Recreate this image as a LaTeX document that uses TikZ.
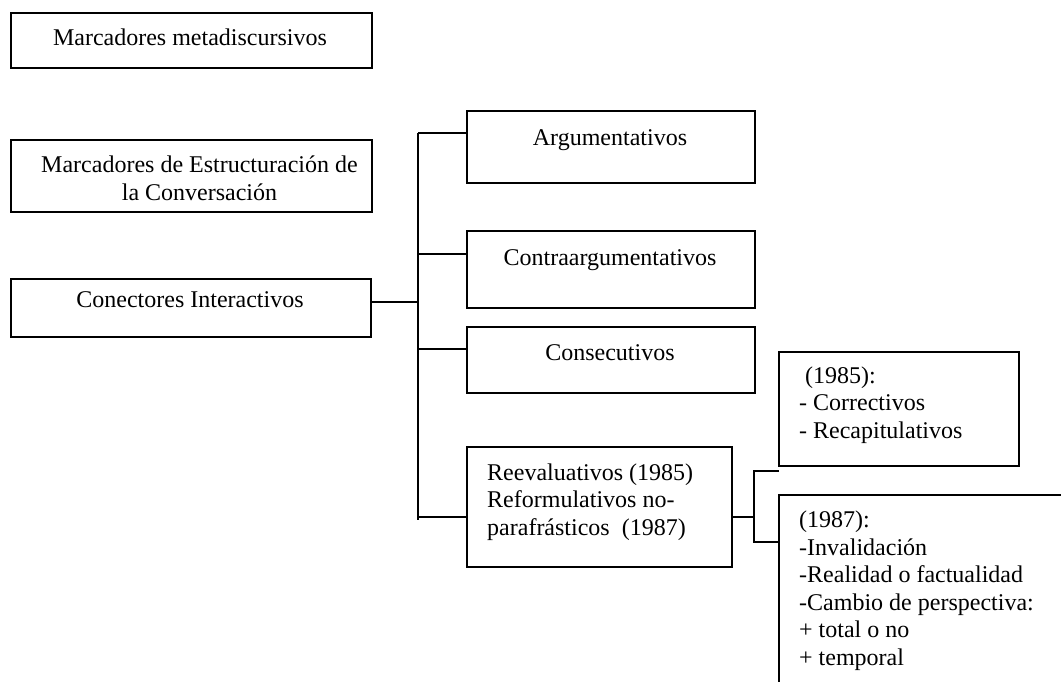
\documentclass[tikz,border=0pt]{standalone}
\usepackage{fontspec}
\setmainfont{Liberation Serif}
\begin{document}
\begin{tikzpicture}[x=1pt,y=-1pt,
  box/.style={draw, rectangle, inner sep=0pt, line width=1.8pt, anchor=north west},
  txt/.style={inner sep=0pt, font=\fontsize{24}{27.5}\selectfont},
  wire/.style={line width=1.8pt}]
\useasboundingbox (0,0) rectangle (1061,681);
\clip (0,0) rectangle (1061,681);
% boxes
\node[box, minimum width=361pt, minimum height=55pt] (mm) at (10,12) {};
\node[box, minimum width=361pt, minimum height=72pt] (me) at (10,139) {};
\node[box, minimum width=360pt, minimum height=58pt] (ci) at (10,278) {};
\node[box, minimum width=288pt, minimum height=72pt] (arg) at (466,110) {};
\node[box, minimum width=288pt, minimum height=77pt] (con) at (466,230) {};
\node[box, minimum width=288pt, minimum height=66pt] (cons) at (466,326) {};
\node[box, minimum width=265pt, minimum height=120pt] (ree) at (466,446) {};
\node[box, minimum width=240pt, minimum height=114pt] (b85) at (778,351) {};
\node[box, minimum width=320pt, minimum height=220pt] (b87) at (778,494) {};
% texts (multi-line nodes: base = baseline of last line)
\node[txt, anchor=base] (tmm) at (190,45) {Marcadores metadiscursivos};
\node[txt, anchor=base, align=center] (tme) at (199.5,200) {Marcadores de Estructuración de\\la Conversación};
\node[txt, anchor=base] (tci) at (190,307) {Conectores Interactivos};
\node[txt, anchor=base] (targ) at (610,145) {Argumentativos};
\node[txt, anchor=base] (tcon) at (610,265) {Contraargumentativos};
\node[txt, anchor=base] (tcons) at (610,360) {Consecutivos};
\node[txt, anchor=base west, align=left] (tree) at (487,535) {Reevaluativos (1985)\\Reformulativos no-\\parafrásticos~~(1987)};
\node[txt, anchor=base west, align=left] (t85) at (799,438) {\hspace{6pt}(1985):\\- Correctivos\\- Recapitulativos};
\node[txt, anchor=base west, align=left] (t87) at (799,665) {(1987):\\-Invalidación\\-Realidad o factualidad\\-Cambio de perspectiva:\\+ total o no\\+ temporal};
% connectors
\coordinate (jt) at (418,133);
\coordinate (jb) at (418,520);
\coordinate (jci) at (418,302);
\coordinate (jcon) at (418,254);
\coordinate (jcons) at (418,349);
\coordinate (jree) at (418,517);
\coordinate (st) at (754,471);
\coordinate (sb) at (754,542);
\coordinate (stt) at (779,471);
\draw[wire] (jt) -- (jb);
\draw[wire] (ci.east |- jci) -- (jci);
\draw[wire] (jt) -- (jt -| arg.west);
\draw[wire] (jcon) -- (jcon -| con.west);
\draw[wire] (jcons) -- (jcons -| cons.west);
\draw[wire] (jree) -- (jree -| ree.west);
\draw[wire] (ree.east |- jree) -- (jree -| st);
\draw[wire] (stt) -- (st) -- (sb) -- (sb -| b87.west);
\end{tikzpicture}
\end{document}
